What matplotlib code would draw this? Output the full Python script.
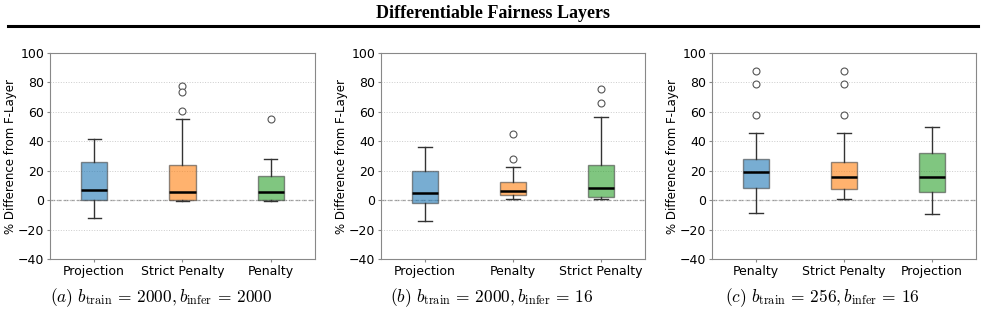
import matplotlib
matplotlib.use('Agg')
import matplotlib.pyplot as plt
from matplotlib.lines import Line2D

# ---------------- data ----------------
panel_a_labels = ['Projection', 'Strict Penalty', 'Penalty']
panel_a_q1 = [0.2, 0.0, 0.2]
panel_a_med = [7.2, 5.8, 5.4]
panel_a_q3 = [25.8, 24.0, 16.3]
panel_a_lo = [-12.3, -0.5, -0.5]
panel_a_hi = [41.5, 55.0, 28.0]
panel_a_fliers = [[], [77.7, 73.2, 60.7], [55.0]]

panel_b_labels = ['Projection', 'Penalty', 'Strict Penalty']
panel_b_q1 = [-2.1, 3.6, 2.4]
panel_b_med = [4.7, 6.3, 8.1]
panel_b_q3 = [19.9, 12.0, 24.0]
panel_b_lo = [-14.4, 1.1, 0.6]
panel_b_hi = [36.0, 22.8, 56.4]
panel_b_fliers = [[], [45.0, 28.3], [75.7, 66.0]]

panel_c_labels = ['Penalty', 'Strict Penalty', 'Projection']
panel_c_q1 = [8.1, 7.6, 5.6]
panel_c_med = [18.8, 15.6, 15.6]
panel_c_q3 = [27.8, 26.0, 31.9]
panel_c_lo = [-9.0, 0.6, -9.7]
panel_c_hi = [45.5, 45.5, 49.5]
panel_c_fliers = [[87.7, 78.9, 58.0], [87.7, 78.9, 58.0], []]

captions = [r'$(a)\ b_{\mathrm{train}} \,=\, 2000, b_{\mathrm{infer}} \,=\, 2000$',
            r'$(b)\ b_{\mathrm{train}} \,=\, 2000, b_{\mathrm{infer}} \,=\, 16$',
            r'$(c)\ b_{\mathrm{train}} \,=\, 256, b_{\mathrm{infer}} \,=\, 16$']

box_colors = ['#1f77b4', '#ff7f0e', '#2ca02c']

panels = [
    (panel_a_labels, panel_a_q1, panel_a_med, panel_a_q3, panel_a_lo, panel_a_hi, panel_a_fliers),
    (panel_b_labels, panel_b_q1, panel_b_med, panel_b_q3, panel_b_lo, panel_b_hi, panel_b_fliers),
    (panel_c_labels, panel_c_q1, panel_c_med, panel_c_q3, panel_c_lo, panel_c_hi, panel_c_fliers),
]

plt.rcParams['mathtext.fontset'] = 'cm'
W, H = 985, 329
fig = plt.figure(figsize=(W / 100, H / 100), dpi=100)

# title + rule
fig.text(0.5, 1 - 13 / H, 'Differentiable Fairness Layers', ha='center', va='center',
         fontsize=13, fontweight='bold', family='Liberation Serif')
fig.add_artist(Line2D([8 / W, 978 / W], [1 - 26 / H, 1 - 26 / H], color='black', lw=2.2))

# axes boxes in pixels: left, right
ax_px = [(50, 315), (381, 645), (712, 976)]
top_px, bot_px = 53, 259
cap_x = [161, 492, 822]

for i, (labels, q1, med, q3, lo, hi, fl) in enumerate(panels):
    l, r = ax_px[i]
    ax = fig.add_axes([l / W, 1 - bot_px / H, (r - l) / W, (bot_px - top_px) / H])
    stats = []
    for k in range(len(labels)):
        stats.append(dict(label=labels[k], q1=q1[k], med=med[k], q3=q3[k],
                          whislo=lo[k], whishi=hi[k], fliers=fl[k]))
    bp = ax.bxp(stats, widths=0.3, patch_artist=True, showfliers=True,
                medianprops=dict(color='black', lw=1.8),
                whiskerprops=dict(color='#333333', lw=1),
                capprops=dict(color='#333333', lw=1),
                flierprops=dict(marker='o', markerfacecolor='white',
                                markeredgecolor='#555555', markersize=5, markeredgewidth=0.8))
    for patch, c in zip(bp['boxes'], box_colors):
        patch.set_facecolor(c)
        patch.set_alpha(0.6)
        patch.set_edgecolor('#444444')
        patch.set_linewidth(1)
    ax.axhline(0, color='gray', ls='--', lw=0.9, alpha=0.8, zorder=0)
    ax.set_ylim(-40, 100)
    ax.set_xlim(0.5, 3.5)
    ax.set_yticks(range(-40, 101, 20))
    ax.yaxis.grid(True, ls=':', color='#cccccc', lw=0.7)
    ax.set_axisbelow(True)
    ax.set_ylabel('% Difference from F-Layer', fontsize=8.5, labelpad=0.5)
    ax.tick_params(labelsize=9, color='#888888', length=2, pad=2)
    for s in ax.spines.values():
        s.set_color('#888888')
    fig.text(cap_x[i] / W, 1 - 298 / H, captions[i], ha='center', va='center', fontsize=12.5)

fig.savefig('out.png', dpi=100)
